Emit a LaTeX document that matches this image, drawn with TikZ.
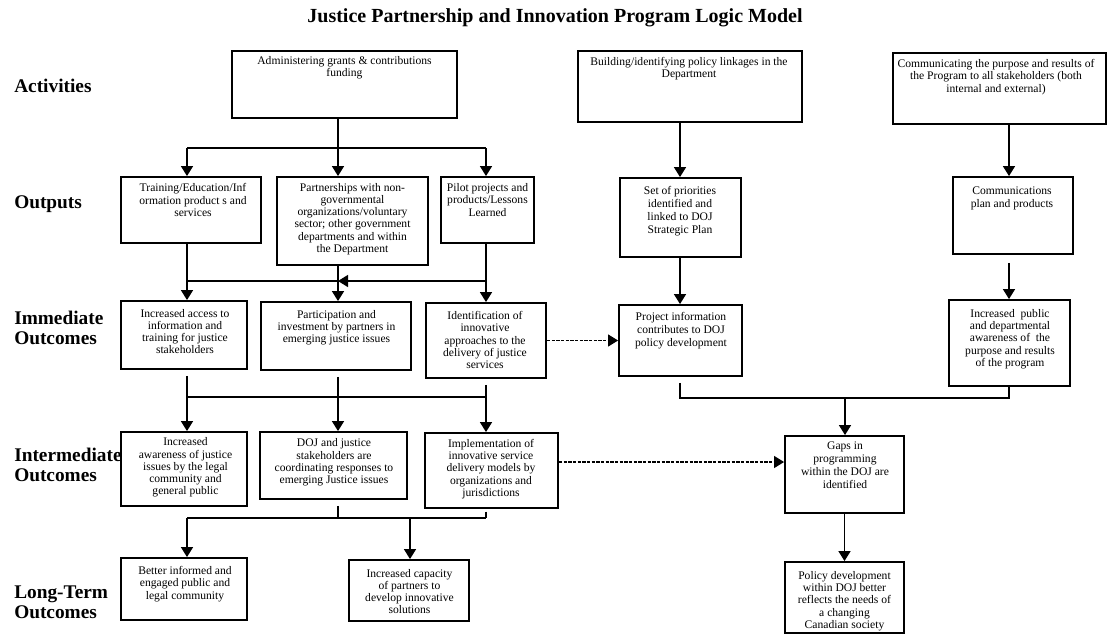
\documentclass[tikz,border=0pt]{standalone}
\usepackage{fontspec}
\setmainfont{Liberation Serif}
\usetikzlibrary{arrows.meta,calc,fit}
\begin{document}
\begin{tikzpicture}[x=0.75pt,y=-0.75pt,
  box/.style={draw, line width=1.4pt, inner sep=0pt, rectangle},
  txt/.style={align=center, inner sep=0pt, font=\fontsize{8.7}{9.2}\selectfont},
  txtw/.style={align=center, inner sep=0pt, font=\fontsize{8.7}{9.8}\selectfont},
  row/.style={anchor=west, align=left, inner sep=0pt, font=\fontsize{14.5}{15}\selectfont\bfseries},
  conn/.style={line width=1.1pt},
  arr/.style={conn, -{Triangle[length=7.5pt,width=9pt]}},
  darr/.style={line width=0.9pt, dash pattern=on 2.5pt off 1pt, -{Triangle[length=7.5pt,width=9pt]}},
]
\useasboundingbox (0,0) rectangle (1109,636);

% title
\node[inner sep=0pt, font=\fontsize{15}{18}\selectfont\bfseries] (title) at (555,18) {Justice Partnership and Innovation Program Logic Model};

% row labels
\node[row] (lact) at (14,86) {Activities};
\node[row] (lout) at (14,204) {Outputs};
\node[row] (limm) at (14,328) {Immediate\\Outcomes};
\node[row] (lint) at (14,465) {Intermediate\\Outcomes};
\node[row] (llong) at (14,602) {Long-Term\\Outcomes};

% activities
\node[box, fit={(232,51) (457,118)}] (A1) {};
\node[txt] (A1t) at (344.5,67.5) {Administering grants \& contributions\\funding};
\node[box, fit={(578,51) (802,122)}] (A2) {};
\node[txt] (A2t) at (689,68.5) {Building/identifying policy linkages in the\\Department};
\node[box, fit={(893,53) (1106,124)}] (A3) {};
\node[txt] (A3t) at (996,77) {Communicating the purpose and results of\\the Program to all stakeholders (both\\internal and external)};

% outputs
\node[box, fit={(121,177) (261,243)}] (O1) {};
\node[txt] (O1t) at (193,200) {Training/Education/Inf\\ormation product s and\\services};
\node[box, fit={(277,177) (428,265)}] (O2) {};
\node[txt] (O2t) at (352.5,219) {Partnerships with non-\\governmental\\organizations/voluntary\\sector; other government\\departments and within\\the Department};
\node[box, fit={(441,177) (534,243)}] (O3) {};
\node[txt] (O3t) at (487.5,200) {Pilot projects and\\products/Lessons\\Learned};
\node[box, fit={(620,178) (741,257)}] (O4) {};
\node[txtw] (O4t) at (680,211.5) {Set of priorities\\identified and\\linked to DOJ\\Strategic Plan};
\node[box, fit={(953,177) (1073,254)}] (O5) {};
\node[txtw] (O5t) at (1012,198.5) {Communications\\plan and products};

% immediate outcomes
\node[box, fit={(121,301) (247,369)}] (I1) {};
\node[txt] (I1t) at (185,331.5) {Increased access to\\information and\\training for justice\\stakeholders};
\node[box, fit={(261,302) (411,370)}] (I2) {};
\node[txt] (I2t) at (336.5,327.5) {Participation and\\investment by partners in\\emerging justice issues};
\node[box, fit={(426,303) (546,378)}] (I3) {};
\node[txt] (I3t) at (485,340) {Identification of\\innovative\\approaches to the\\delivery of justice\\services};
\node[box, fit={(619,305) (742,376)}] (I4) {};
\node[txtw] (I4t) at (681,331) {Project information\\contributes to DOJ\\policy development};
\node[box, fit={(949,300) (1070,386)}] (I5) {};
\node[txt] (I5t) at (1010,339) {Increased\ \ public\\and departmental\\awareness of\ \ the\\purpose and results\\of the program};

% intermediate outcomes
\node[box, fit={(121,432) (247,506)}] (M1) {};
\node[txt] (M1t) at (185.5,467.5) {Increased\\awareness of justice\\issues by the legal\\community and\\general public};
\node[box, fit={(260,432) (407,499)}] (M2) {};
\node[txt] (M2t) at (334,462.5) {DOJ and justice\\stakeholders are\\coordinating responses to\\emerging Justice issues};
\node[box, fit={(425,433) (558,508)}] (M3) {};
\node[txt] (M3t) at (491,469) {Implementation of\\innovative service\\delivery models by\\organizations and\\jurisdictions};
\node[box, fit={(785,436) (904,513)}] (M4) {};
\node[txtw] (M4t) at (845,465.5) {Gaps in\\programming\\within the DOJ are\\identified};

% long-term outcomes
\node[box, fit={(121,558) (247,620)}] (L1) {};
\node[txt] (L1t) at (185,584) {Better informed and\\engaged public and\\legal community};
\node[box, fit={(349,560) (469,621)}] (L2) {};
\node[txt] (L2t) at (409.5,591.5) {Increased capacity\\of partners to\\develop innovative\\solutions};
\node[box, fit={(785,562) (904,633)}] (L3) {};
\node[txt] (L3t) at (844.5,601) {Policy development\\within DOJ better\\reflects the needs of\\a changing\\Canadian society};

% helper coordinates
\coordinate (c1) at (187,0);
\coordinate (c2) at (338,0);
\coordinate (c3) at (486,0);
\coordinate (c4) at (680,0);
\coordinate (c5) at (1009,0);
\coordinate (c6) at (845,0);
\coordinate (c7) at (410,0);
\coordinate (h1) at (0,148);
\coordinate (h2) at (0,281);
\coordinate (h3) at (0,397);
\coordinate (h4) at (0,398);
\coordinate (h5) at (0,518);
\coordinate (d2) at (0,462);

% activities -> outputs
\draw[conn] (c1|-h1) -- (c3|-h1);
\draw[arr] (A1.south -| c2) -- (O2.north -| c2);
\draw[arr] (c1|-h1) -- (O1.north -| c1);
\draw[arr] (c3|-h1) -- (O3.north -| c3);
\draw[arr] (A2.south -| c4) -- (O4.north -| c4);
\draw[arr] (A3.south -| c5) -- (O5.north -| c5);

% outputs -> immediate
\draw[arr] (O1.south -| c1) -- (I1.north -| c1);
\draw[arr] (O2.south -| c2) -- (I2.north -| c2);
\draw[arr] (O3.south -| c3) -- (I3.north -| c3);
\draw[conn] (c1|-h2) -- (c2|-h2);
\draw[arr] (c3|-h2) -- (c2|-h2);
\draw[arr] (O4.south -| c4) -- (I4.north -| c4);
\draw[arr, shorten <=6pt] (O5.south -| c5) -- (I5.north -| c5);
\draw[darr] (I3) -- (I4);

% immediate -> intermediate
\draw[arr, shorten <=4.5pt] (I1.south -| c1) -- (M1.north -| c1);
\draw[arr, shorten <=4.5pt] (I2.south -| c2) -- (M2.north -| c2);
\draw[arr, shorten <=4.5pt] (I3.south -| c3) -- (M3.north -| c3);
\draw[conn] (c1|-h3) -- (c3|-h3);
\draw[conn, shorten <=4.5pt] (I4.south -| c4) -- (c4|-h4) -- (c5|-h4) -- (I5.south -| c5);
\draw[arr] (c6|-h4) -- (M4.north -| c6);
\draw[darr] (M3.east |- d2) -- (M4.west |- d2);

% intermediate -> long-term
\draw[conn] (c1|-h5) -- (c3|-h5);
\draw[conn, shorten <=4.5pt] (M2.south -| c2) -- (c2|-h5);
\draw[conn, shorten <=2pt] (M3.south -| c3) -- (c3|-h5);
\draw[arr] (c1|-h5) -- (L1.north -| c1);
\draw[arr] (c7|-h5) -- (L2.north -| c7);
\draw[arr] (M4) -- (L3);
\end{tikzpicture}
\end{document}
